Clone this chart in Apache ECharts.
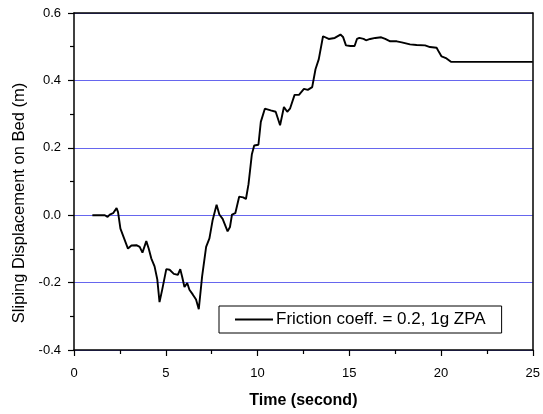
<!DOCTYPE html>
<html>
<head>
<meta charset="utf-8">
<script src="https://cdn.jsdelivr.net/npm/echarts@6/dist/echarts.min.js"></script>
<style>
  html, body { margin: 0; padding: 0; background: #fff; }
  #chart { width: 543px; height: 414px; }
</style>
</head>
<body>
<div id="chart"></div>
<script>
// Sliding displacement time history (seconds, metres)
const timeSec = [
  1.00, 1.68, 1.83, 1.95, 2.13, 2.32, 2.40, 2.53, 2.73, 2.94, 3.13, 3.40, 3.58, 3.73, 3.94,
  4.07, 4.21, 4.39, 4.54, 4.66, 4.81, 5.03, 5.21, 5.44, 5.66, 5.79, 5.89, 6.02, 6.17, 6.29,
  6.47, 6.65, 6.80, 6.98, 7.20, 7.38, 7.55, 7.77, 7.92, 8.10, 8.37, 8.50, 8.61, 8.79, 9.00,
  9.22, 9.37, 9.51, 9.69, 9.82, 10.05, 10.18, 10.40, 10.72, 10.99, 11.23, 11.44, 11.62, 11.77, 12.02,
  12.26, 12.53, 12.74, 12.98, 13.16, 13.34, 13.57, 13.67, 13.88, 14.21, 14.52, 14.66, 14.82, 15.06, 15.29,
  15.42, 15.55, 15.78, 15.91, 16.14, 16.42, 16.74, 16.96, 17.23, 17.59, 17.86, 18.31, 18.67, 19.13, 19.40,
  19.76, 19.89, 20.03, 20.30, 20.54, 25.00
];
const displacement = [
  0.000, 0.000, -0.005, 0.002, 0.006, 0.021, 0.009, -0.040, -0.069, -0.099, -0.090, -0.089, -0.094, -0.111, -0.077,
  -0.099, -0.128, -0.152, -0.191, -0.258, -0.220, -0.160, -0.162, -0.174, -0.177, -0.160, -0.182, -0.213, -0.201, -0.221,
  -0.235, -0.250, -0.279, -0.182, -0.094, -0.069, -0.016, 0.031, 0.002, -0.011, -0.048, -0.035, 0.002, 0.006, 0.055,
  0.053, 0.048, 0.092, 0.180, 0.207, 0.209, 0.277, 0.316, 0.311, 0.307, 0.267, 0.321, 0.307, 0.316, 0.357,
  0.357, 0.375, 0.372, 0.380, 0.433, 0.463, 0.531, 0.536, 0.523, 0.526, 0.536, 0.529, 0.504, 0.502, 0.502,
  0.523, 0.526, 0.523, 0.519, 0.523, 0.526, 0.528, 0.523, 0.516, 0.516, 0.513, 0.507, 0.505, 0.504, 0.499,
  0.497, 0.484, 0.471, 0.465, 0.455, 0.455
];
const seriesName = 'Friction coeff. = 0.2, 1g ZPA';
const xTitle = 'Time (second)';
const yTitle = 'Sliping Displacement on Bed (m)';

const FONT = "'Liberation Sans', Arial, Helvetica, sans-serif";
const points = timeSec.map((t, i) => [t, displacement[i]]);

const chart = echarts.init(document.getElementById('chart'), null, { renderer: 'canvas' });

const frameLine = { show: true, onZero: false, lineStyle: { color: '#000', width: 1.5 } };
const tickStyle = { color: '#000', width: 1.2 };

chart.setOption({
  animation: false,
  backgroundColor: '#fff',
  grid: { left: 74, right: 8, top: 13, bottom: 59, containLabel: false },
  xAxis: [
    {
      type: 'value', min: 0, max: 25, interval: 5,
      axisLine: frameLine,
      axisTick: { show: true, inside: false, length: 6, lineStyle: tickStyle },
      minorTick: { show: true, splitNumber: 2, length: 4, lineStyle: tickStyle },
      axisLabel: { color: '#000', fontSize: 13, fontFamily: FONT, margin: 17 },
      splitLine: { show: false },
      name: xTitle, nameLocation: 'middle', nameGap: 43,
      nameTextStyle: { color: '#000', fontSize: 16, fontWeight: 'bold', fontFamily: FONT }
    },
    {
      type: 'value', position: 'top', min: 0, max: 25,
      axisLine: frameLine, axisTick: { show: false }, axisLabel: { show: false }, splitLine: { show: false }
    }
  ],
  yAxis: [
    {
      type: 'value', min: -0.4, max: 0.6, interval: 0.2,
      axisLine: frameLine,
      axisTick: { show: true, inside: false, length: 6, lineStyle: tickStyle },
      minorTick: { show: true, splitNumber: 2, length: 4, lineStyle: tickStyle },
      axisLabel: { color: '#000', fontSize: 13, fontFamily: FONT, margin: 13,
                   formatter: v => v.toFixed(1) },
      splitLine: { show: true, lineStyle: { color: '#6666ee', width: 1 } }
    },
    {
      type: 'value', position: 'right', min: -0.4, max: 0.6,
      axisLine: frameLine, axisTick: { show: false }, axisLabel: { show: false }, splitLine: { show: false }
    }
  ],
  legend: {
    left: 219, top: 306,
    data: [{ name: seriesName, icon: 'rect' }],
    itemWidth: 38, itemHeight: 2, itemGap: 0,
    itemStyle: { color: '#000' },
    padding: [5, 16, 5, 16],
    borderColor: '#000', borderWidth: 1, borderRadius: 0,
    backgroundColor: '#fff',
    textStyle: { color: '#000', fontSize: 17, fontFamily: FONT, padding: [0, 0, 0, -2] }
  },
  graphic: [
    {
      type: 'text', x: 19, y: 203, rotation: Math.PI / 2,
      style: { text: yTitle, fill: '#000', font: '16.5px ' + FONT, align: 'center', verticalAlign: 'middle' }
    }
  ],
  series: [
    {
      name: seriesName, type: 'line', data: points,
      showSymbol: false, symbol: 'none',
      lineStyle: { color: '#000', width: 1.9 },
      itemStyle: { color: '#000' },
      z: 5
    }
  ]
});
</script>
</body>
</html>
